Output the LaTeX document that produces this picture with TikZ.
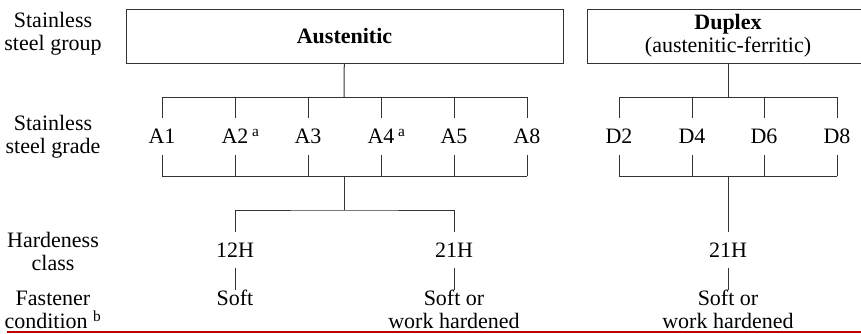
\documentclass[tikz,border=0pt]{standalone}
\usepackage{fontspec}
\setmainfont{Liberation Serif}
\usetikzlibrary{positioning,calc}
\tikzset{>=latex}
\tikzset{
	grpbox/.style={draw=black!80, line width=1pt, inner sep=0pt},
	grade/.style={minimum height=37pt, inner sep=0pt, text depth=0pt},
	hclass/.style={minimum height=36pt, inner sep=0pt, text depth=0pt},
	cond/.style={anchor=north, align=center, inner sep=0pt},
	rowlab/.style={align=center, inner sep=0pt},
	tree/.style={draw=black!80, line width=1pt}
}
\begin{document}
\begin{tikzpicture}[x=1pt,y=-1pt,font=\fontsize{22}{23}\selectfont]
		\useasboundingbox (0,0) rectangle (861,333);
		% row labels
		\node[rowlab] (lgroup) at (53,34) {Stainless\\steel group};
		\node[rowlab] (lgrade) at (53,137) {Stainless\\steel grade};
		\node[rowlab] (lhard) at (53,251) {Hardeness\\class};
		\node[rowlab] (lcond) at (53,310) {Fastener\\condition \textsuperscript{b}};
		% groups
		\node[grpbox, minimum width=437pt, minimum height=54pt] (aus) at (344.5,36) {\bfseries Austenitic};
		\node[grpbox, minimum width=282pt, minimum height=54pt, align=center] (dup) at (728,36) {\bfseries Duplex\\(austenitic-ferritic)};
		% grades
		\node[grade] (A1) at (162,136.5) {A1};
		\node[grade] (A2) at (235,136.5) {A2\rlap{\,\textsuperscript{a}}};
		\node[grade] (A3) at (308,136.5) {A3};
		\node[grade] (A4) at (381,136.5) {A4\rlap{\,\textsuperscript{a}}};
		\node[grade] (A5) at (454,136.5) {A5};
		\node[grade] (A8) at (527,136.5) {A8};
		\node[grade] (D2) at (619,136.5) {D2};
		\node[grade] (D4) at (692,136.5) {D4};
		\node[grade] (D6) at (764,136.5) {D6};
		\node[grade] (D8) at (837,136.5) {D8};
		% hardness classes and conditions
		\node[hclass] (h12) at (235,250) {12H};
		\node[hclass] (h21a) at (454,250) {21H};
		\node[hclass] (h21d) at (728,250) {21H};
		\node[cond] (soft) at (235,290) {Soft};
		\node[cond] (worka) at (454,290) {Soft or\\work hardened};
		\node[cond] (workd) at (728,290) {Soft or\\work hardened};
		% junctions
		\coordinate (atop) at (344,97);
		\coordinate (alow) at (344,176);
		\coordinate (asplit) at (344,210);
		\coordinate (dtop) at (728,97);
		\coordinate (dlow) at (728,176);
		% austenitic tree
		\draw[tree] (aus) -- (atop);
		\draw[tree] (A1.north |- atop) -- (A8.north |- atop);
		\draw[tree] (A1.south |- alow) -- (A8.south |- alow);
		\foreach \g in {A1,A2,A3,A4,A5,A8} {
			\draw[tree] (\g.north) -- (\g.north |- atop);
			\draw[tree] (\g.south) -- (\g.south |- alow);
		}
		\draw[tree] (alow) -- (asplit);
		\draw[tree] (h12.north) |- (asplit) -| (h21a.north);
		\draw[tree] (h12) -- (soft);
		\draw[tree] (h21a) -- (worka);
		% duplex tree
		\draw[tree] (dup) -- (dtop);
		\draw[tree] (D2.north |- dtop) -- (D8.north |- dtop);
		\draw[tree] (D2.south |- dlow) -- (D8.south |- dlow);
		\foreach \g in {D2,D4,D6,D8} {
			\draw[tree] (\g.north) -- (\g.north |- dtop);
			\draw[tree] (\g.south) -- (\g.south |- dlow);
		}
		\draw[tree] (dlow) -- (h21d);
		\draw[tree] (h21d) -- (workd);
		% page rule
		\draw[red!75!black, line width=1.5pt] (7,332) -- (861,332);
	\end{tikzpicture}
\end{document}
